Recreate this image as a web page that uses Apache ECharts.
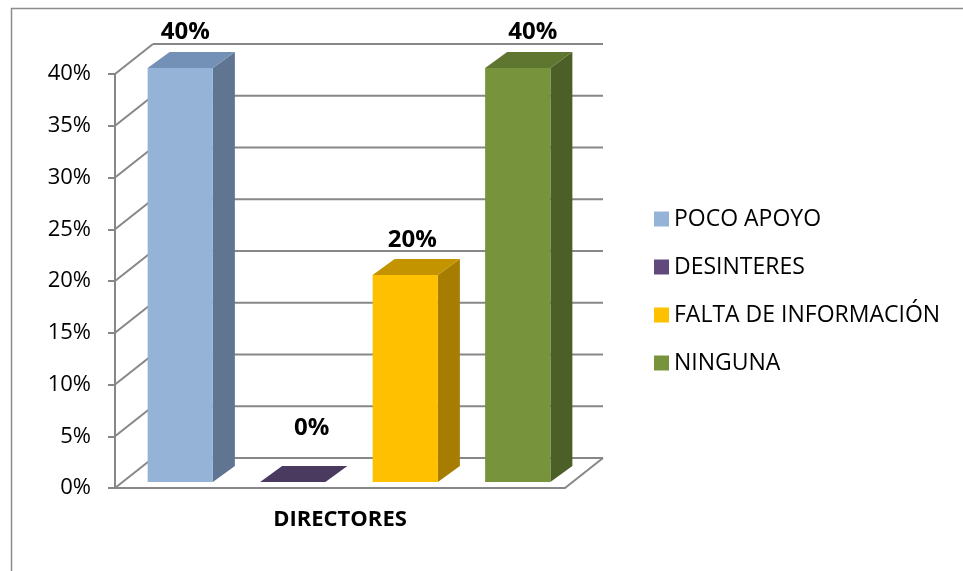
<!DOCTYPE html>
<html><head><meta charset="utf-8">
<script src="https://cdn.jsdelivr.net/npm/echarts@6/dist/echarts.min.js"></script>
<style>html,body{margin:0;padding:0;background:#fff}#c{width:963px;height:571px}</style>
</head><body><div id="c"></div>
<script>
// ---- data ----
const categories = ['DIRECTORES'];
const seriesNames = ['POCO APOYO', 'DESINTERES', 'FALTA DE INFORMACIÓN', 'NINGUNA'];
const seriesValues = [40, 0, 20, 40];
const yTicks = [0, 5, 10, 15, 20, 25, 30, 35, 40];

// ---- styles ----
const FRONT = ['#95B3D7', '#604A7B', '#FFC000', '#77933C'];
const SIDE = ['#5F7592', '#3F3051', '#A67D00', '#4C5F27'];
const TOP = ['#7391B6', '#4B3A60', '#C49400', '#5F7631'];
const WALL = { dx: 38, dy: -30 };
const BAR_SHIFT = { dx: 9, dy: -6 };
const BAR_DEPTH = { dx: 22, dy: -16 };
const BAR_RATIO = 0.58;
const LABEL_OFF = [[-6, -20], [8, -38], [-4, -19], [4, -20]];
const FONT = '"Open Sans", sans-serif';
const GRID_COLOR = '#878787';

function barRenderer(i) {
  return function (params, api) {
    const base = api.coord([api.value(0), 0]);
    const top = api.coord([api.value(0), api.value(1)]);
    const band = api.size([1, 0])[0];
    const n = seriesNames.length;
    const slot = band / n;
    const cx = base[0] - band / 2 + slot * (i + 0.5) + BAR_SHIFT.dx;
    const w = slot * BAR_RATIO;
    const x0 = cx - w / 2, x1 = cx + w / 2;
    const yb = base[1] + BAR_SHIFT.dy, yt = top[1] + BAR_SHIFT.dy;
    const d = BAR_DEPTH;
    return {
      type: 'group',
      children: [
        { type: 'polygon', shape: { points: [[x1, yb], [x1 + d.dx, yb + d.dy], [x1 + d.dx, yt + d.dy], [x1, yt]] }, style: { fill: SIDE[i] } },
        { type: 'rect', shape: { x: x0, y: yt, width: w, height: yb - yt }, style: { fill: FRONT[i] } },
        { type: 'polygon', shape: { points: [[x0, yt], [x1, yt], [x1 + d.dx, yt + d.dy], [x0 + d.dx, yt + d.dy]] }, style: { fill: TOP[i] } },
        { type: 'text', style: { text: api.value(1) + '%', x: cx + d.dx / 2 + LABEL_OFF[i][0], y: yt + d.dy + LABEL_OFF[i][1], align: 'center', verticalAlign: 'middle', font: 'bold 24px ' + FONT, fill: '#000' } }
      ]
    };
  };
}

function wallRender(params, api) {
  const cs = params.coordSys;
  const v = api.value(1);
  const y = api.coord([0, v])[1];
  const xl = cs.x, xr = cs.x + cs.width;
  const st = { stroke: GRID_COLOR, lineWidth: 2 };
  const ch = [
    { type: 'line', shape: { x1: xl + WALL.dx, y1: y + WALL.dy, x2: xr + WALL.dx, y2: y + WALL.dy }, style: st },
    { type: 'line', shape: { x1: xl, y1: y, x2: xl + WALL.dx, y2: y + WALL.dy }, style: st }
  ];
  if (v === yTicks[0]) {
    ch.push({ type: 'line', shape: { x1: xr, y1: y, x2: xr + WALL.dx, y2: y + WALL.dy }, style: st });
  }
  return { type: 'group', children: ch };
}

const series = [{
  type: 'custom', name: 'wall', z: 1, silent: true, clip: false,
  renderItem: wallRender,
  data: yTicks.map(v => [0, v])
}];
seriesNames.forEach((name, i) => {
  series.push({
    type: 'custom', name: name, z: 3, clip: false,
    itemStyle: { color: FRONT[i] },
    renderItem: barRenderer(i),
    data: [[0, seriesValues[i]]]
  });
});

const chart = echarts.init(document.getElementById('c'));
chart.setOption({
  animation: false,
  backgroundColor: '#fff',
  graphic: [{
    type: 'rect', left: 9, top: 6, shape: { width: 2000, height: 2000 },
    style: { fill: 'none', stroke: '#8c8c8c', lineWidth: 1.5 }, silent: true, z: -10
  }],
  grid: { left: 115, right: 398, top: 74, bottom: 83 },
  xAxis: {
    type: 'category', data: categories,
    axisLine: { lineStyle: { color: GRID_COLOR, width: 2 } },
    axisTick: { show: false },
    axisLabel: { fontFamily: FONT, fontWeight: 'bold', fontSize: 22, color: '#000', margin: 21 }
  },
  yAxis: {
    type: 'value', min: 0, max: 40, interval: 5,
    axisLine: { show: true, lineStyle: { color: GRID_COLOR, width: 2 } },
    axisTick: { show: true, length: 7, lineStyle: { color: GRID_COLOR, width: 2 } },
    splitLine: { show: false },
    axisLabel: { formatter: '{value}%', fontFamily: FONT, fontSize: 22, color: '#000', margin: 24 }
  },
  legend: {
    data: seriesNames, orient: 'vertical', left: 654, top: 207, padding: 0,
    icon: 'rect', itemWidth: 15, itemHeight: 15, itemGap: 24,
    textStyle: { fontFamily: FONT, fontSize: 23, lineHeight: 24, color: '#000' }
  },
  series: series
});
</script>
</body></html>
